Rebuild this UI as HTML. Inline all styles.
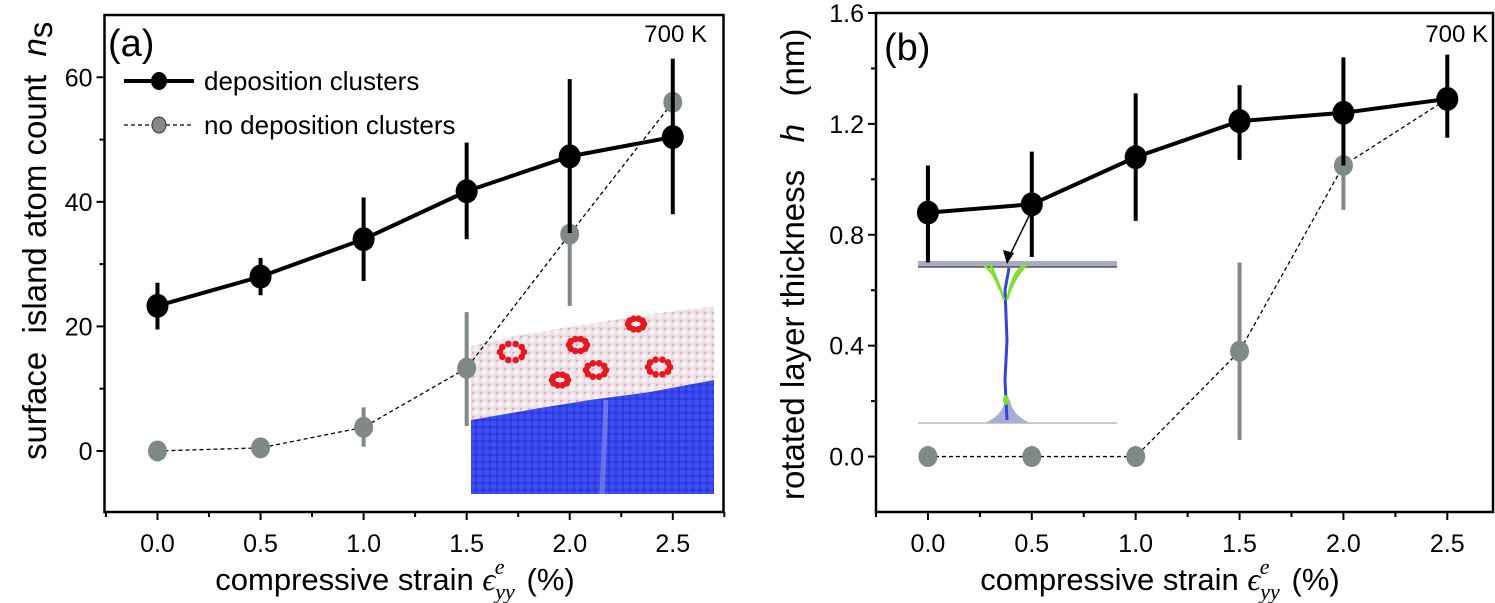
<!DOCTYPE html>
<html><head><meta charset="utf-8"><style>
html,body{margin:0;padding:0;background:#fff}
svg{display:block;font-family:"Liberation Sans",sans-serif}
</style></head><body>
<svg id="chart" width="1495" height="603" viewBox="0 0 1495 603">
<defs>
<pattern id="pinkAtoms" width="8" height="8" patternUnits="userSpaceOnUse">
<rect width="8" height="8" fill="#eadde2"/>
<circle cx="4" cy="4" r="3.2" fill="#f4eef1"/><circle cx="0" cy="0" r="2.5" fill="#e7a9b9"/>
</pattern>
<pattern id="blueAtoms" width="7" height="7" patternUnits="userSpaceOnUse">
<rect width="7" height="7" fill="#2a3ae0"/>
<circle cx="3.5" cy="3.5" r="3" fill="#3f4ff0"/>
</pattern>
</defs>
<g id="panelA"></g>
<g id="panelB"></g>
</svg>
<script>
// Panel (a) data
const strainA = [0, 0.5, 1.0, 1.5, 2.0, 2.5];
const depA = [23.3, 28.0, 34.0, 41.7, 47.3, 50.4];
const depALo = [19.5, 25.0, 27.3, 34.0, 35.0, 38.0];
const depAHi = [27.0, 31.0, 40.7, 49.5, 59.7, 63.0];
const noDepA = [0, 0.5, 3.8, 13.3, 34.8, 56.0];
const noDepALo = [0, 0, 0.7, 4.0, 23.3, 56.0];
const noDepAHi = [0, 1.0, 7.0, 22.3, 46.0, 56.0];
const yTicksA = [0, 20, 40, 60];
// Panel (b) data
const strainB = [0, 0.5, 1.0, 1.5, 2.0, 2.5];
const depB = [0.88, 0.91, 1.08, 1.21, 1.24, 1.29];
const depBLo = [0.70, 0.72, 0.85, 1.07, 1.05, 1.15];
const depBHi = [1.05, 1.10, 1.31, 1.34, 1.44, 1.45];
const noDepB = [0, 0, 0, 0.38, 1.05, 1.29];
const noDepBLo = [0, 0, 0, 0.06, 0.89, 1.29];
const noDepBHi = [0, 0, 0, 0.70, 1.20, 1.29];
const yTicksB = [0.0, 0.4, 0.8, 1.2, 1.6];
const xTicks = [0, 0.5, 1.0, 1.5, 2.0, 2.5];

const NS = 'http://www.w3.org/2000/svg';
function mk(parent, tag, attrs, text) {
  const e = document.createElementNS(NS, tag);
  for (const k in attrs) e.setAttribute(k, attrs[k]);
  if (text !== undefined) e.textContent = text;
  parent.appendChild(e);
  return e;
}
const XTITLE = 'compressive strain <tspan font-family="Liberation Serif" font-style="italic" font-size="32">ϵ</tspan><tspan font-family="Liberation Serif" font-style="italic" font-size="22" dy="9">yy</tspan><tspan font-family="Liberation Serif" font-style="italic" font-size="22" dx="-20" dy="-25">e</tspan><tspan dx="22" dy="16">(%)</tspan>';

function drawPanel(g, cfg) {
  const X = v => cfg.x0 + (v - cfg.xmin) / (cfg.xmax - cfg.xmin) * (cfg.x1 - cfg.x0);
  const Y = v => cfg.y1 - (v - cfg.ymin) / (cfg.ymax - cfg.ymin) * (cfg.y1 - cfg.y0);
  cfg.pre && cfg.pre(g, X, Y);
  const fr = mk(g, 'rect', {x: cfg.x0, y: cfg.y0, width: cfg.x1 - cfg.x0, height: cfg.y1 - cfg.y0, fill: 'none', stroke: '#000', 'stroke-width': 2.5});
  
  
  for (let v = -0.25; v <= 2.75; v += 0.25) {
    const major = Math.abs(v * 2 - Math.round(v * 2)) < 1e-6;
    mk(g, 'line', {x1: X(v), x2: X(v), y1: cfg.y1, y2: cfg.y1 + (major ? 8 : 5), stroke: '#000', 'stroke-width': 2});
  }
  xTicks.forEach(v => {
    const t = mk(g, 'text', {x: X(v), y: cfg.y1 + 40, 'font-size': 25, 'text-anchor': 'middle'}, v.toFixed(1));
    
    
  });
  cfg.yTicks.forEach((v, i) => {
    mk(g, 'line', {x1: cfg.x0 - 8, x2: cfg.x0, y1: Y(v), y2: Y(v), stroke: '#000', 'stroke-width': 2});
    const t = mk(g, 'text', {x: cfg.x0 - 12, y: Y(v) + 9, 'font-size': 25, 'text-anchor': 'end'}, cfg.yFmt(v));
    
    
    const m = v + (cfg.yTicks[1] - cfg.yTicks[0]) / 2;
    if (m < cfg.ymax) mk(g, 'line', {x1: cfg.x0 - 5, x2: cfg.x0, y1: Y(m), y2: Y(m), stroke: '#000', 'stroke-width': 2});
    const mm = v - (cfg.yTicks[1] - cfg.yTicks[0]) / 2;
    if (i === 0 && mm > cfg.ymin) mk(g, 'line', {x1: cfg.x0 - 5, x2: cfg.x0, y1: Y(mm), y2: Y(mm), stroke: '#000', 'stroke-width': 2});
  });
  let pts = cfg.nd.map((v, i) => X(cfg.xs[i]) + ',' + Y(v)).join(' ');
  const ndl = mk(g, 'polyline', {points: pts, fill: 'none', stroke: '#000', 'stroke-width': 1.3, 'stroke-dasharray': '4,3'});
  
  
  cfg.nd.forEach((v, i) => {
    const eb = mk(g, 'line', {x1: X(cfg.xs[i]), x2: X(cfg.xs[i]), y1: Y(cfg.ndLo[i]), y2: Y(cfg.ndHi[i]), stroke: '#7f8a88', 'stroke-width': 4});
    
    
  });
  cfg.nd.forEach((v, i) => {
    const c = mk(g, 'ellipse', {cx: X(cfg.xs[i]), cy: Y(v), rx: 9.5, ry: 10.5, fill: '#7f8a88'});
    
    
  });
  pts = cfg.dep.map((v, i) => X(cfg.xs[i]) + ',' + Y(v)).join(' ');
  const dl = mk(g, 'polyline', {points: pts, fill: 'none', stroke: '#000', 'stroke-width': 4});
  
  
  cfg.dep.forEach((v, i) => {
    const eb = mk(g, 'line', {x1: X(cfg.xs[i]), x2: X(cfg.xs[i]), y1: Y(cfg.depLo[i]), y2: Y(cfg.depHi[i]), stroke: '#000', 'stroke-width': 4});
    
    
    const c = mk(g, 'ellipse', {cx: X(cfg.xs[i]), cy: Y(v), rx: 11, ry: 12, fill: '#000'});
    
    
  });
  cfg.post && cfg.post(g, X, Y);
}

const gA = document.getElementById('panelA');
drawPanel(gA, {
  x0: 104.5, x1: 723.5, y0: 15, y1: 512, xmin: -0.257, xmax: 2.746, ymin: -9.8, ymax: 70,
  xs: strainA, dep: depA, depLo: depALo, depHi: depAHi, nd: noDepA, ndLo: noDepALo, ndHi: noDepAHi,
  yTicks: yTicksA, yFmt: v => String(v),
  pre: (g) => {
    const ins = mk(g, 'g', {});
    
    
    mk(ins, 'polygon', {points: '471,346 520,335 600,322 660,313 714,306 714,380 650,392 590,400 540,408 471,420', fill: 'url(#pinkAtoms)'});
    mk(ins, 'polygon', {points: '471,420 540,408 590,400 650,392 714,380 714,494 471,494', fill: 'url(#blueAtoms)'});
    mk(ins, 'line', {x1: 606, y1: 400, x2: 602, y2: 494, stroke: '#8a93f0', 'stroke-width': 5, opacity: 0.6});
    const rings = [[512,352,12],[636,324,8],[659,367,11],[578,345,9],[596,370,10],[560,380,8]];
    rings.forEach(r => {
      for (let k = 0; k < 10; k++) {
        const a = k / 10 * 2 * Math.PI;
        mk(ins, 'circle', {cx: r[0] + r[2] * Math.cos(a), cy: r[1] + r[2] * 0.7 * Math.sin(a), r: 3.3, fill: '#e8161e'});
      }
    });
  },
  post: (g) => {
    mk(g, 'text', {x: 108, y: 56, 'font-size': 38}, '(a)');
    mk(g, 'text', {x: 707, y: 42, 'font-size': 24, 'text-anchor': 'end'}, '700 K');
    const lg = mk(g, 'g', {});
    
    
    mk(lg, 'line', {x1: 124, x2: 194, y1: 81, y2: 81, stroke: '#000', 'stroke-width': 4});
    mk(lg, 'ellipse', {cx: 159, cy: 81, rx: 8, ry: 9, fill: '#000'});
    mk(lg, 'text', {x: 204, y: 90, 'font-size': 26}, 'deposition clusters');
    mk(lg, 'line', {x1: 124, x2: 194, y1: 125, y2: 125, stroke: '#000', 'stroke-width': 1.3, 'stroke-dasharray': '4,3'});
    mk(lg, 'ellipse', {cx: 159, cy: 125, rx: 7, ry: 8, fill: '#888', stroke: '#333', 'stroke-width': 1});
    mk(lg, 'text', {x: 204, y: 134, 'font-size': 26}, 'no deposition clusters');
    const yl = mk(g, 'text', {x: 0, y: 0, 'font-size': 33, transform: 'translate(46,460) rotate(-90)'});
    
    
    yl.innerHTML = 'surface&#160; island atom count&#160; <tspan font-style="italic">n</tspan><tspan dy="6">s</tspan>';
    const xl = mk(g, 'text', {x: 395, y: 590, 'font-size': 31, 'text-anchor': 'middle'});
    
    
    xl.innerHTML = XTITLE;
  }
});

const gB = document.getElementById('panelB');
drawPanel(gB, {
  x0: 876, x1: 1493, y0: 13, y1: 512, xmin: -0.25, xmax: 2.72, ymin: -0.2, ymax: 1.6,
  xs: strainB, dep: depB, depLo: depBLo, depHi: depBHi, nd: noDepB, ndLo: noDepBLo, ndHi: noDepBHi,
  yTicks: yTicksB, yFmt: v => v.toFixed(1),
  pre: (g) => {
    const ins = mk(g, 'g', {});
    
    
    mk(ins, 'rect', {x: 918, y: 261, width: 199, height: 6, fill: '#a9acc6'});
    mk(ins, 'line', {x1: 918, y1: 267, x2: 1117, y2: 267, stroke: '#555', 'stroke-width': 1.5});
    mk(ins, 'line', {x1: 918, y1: 423, x2: 1117, y2: 423, stroke: '#bbb', 'stroke-width': 1.5});
    mk(ins, 'path', {d: 'M985,423 Q1003,415 1005,400 L1010,400 Q1012,415 1030,423 Z', fill: '#a9acd6'});
    mk(ins, 'path', {d: 'M1007,420 L1005,380 L1007,340 L1005,290 L1009,268', fill: 'none', stroke: '#3344dd', 'stroke-width': 3});
    mk(ins, 'path', {d: 'M990,264 Q998,280 1004,300 M1027,264 Q1012,280 1007,300 M984,266 Q993,270 1000,290 M1023,266 Q1014,272 1009,292', fill: 'none', stroke: '#7be02a', 'stroke-width': 2.5});
    mk(ins, 'ellipse', {cx: 1006, cy: 400, rx: 3, ry: 5, fill: '#7be02a'});
  },
  post: (g, X, Y) => {
    mk(g, 'line', {x1: X(0.5) - 2, y1: Y(0.91) + 10, x2: 1010, y2: 255, stroke: '#000', 'stroke-width': 1.5});
    mk(g, 'path', {d: 'M1007,264 L1003,250 L1014,253 Z', fill: '#000'});
    mk(g, 'text', {x: 884, y: 60, 'font-size': 38}, '(b)');
    mk(g, 'text', {x: 1488, y: 42, 'font-size': 24, 'text-anchor': 'end'}, '700 K');
    const yl = mk(g, 'text', {x: 0, y: 0, 'font-size': 33, transform: 'translate(804,500) rotate(-90)'});
    
    
    yl.innerHTML = 'rotated layer thickness&#160;&#160; <tspan font-style="italic">h</tspan>&#160;&#160; (nm)';
    const xl = mk(g, 'text', {x: 1160, y: 590, 'font-size': 31, 'text-anchor': 'middle'});
    
    
    xl.innerHTML = XTITLE;
  }
});
</script>
</body></html>
